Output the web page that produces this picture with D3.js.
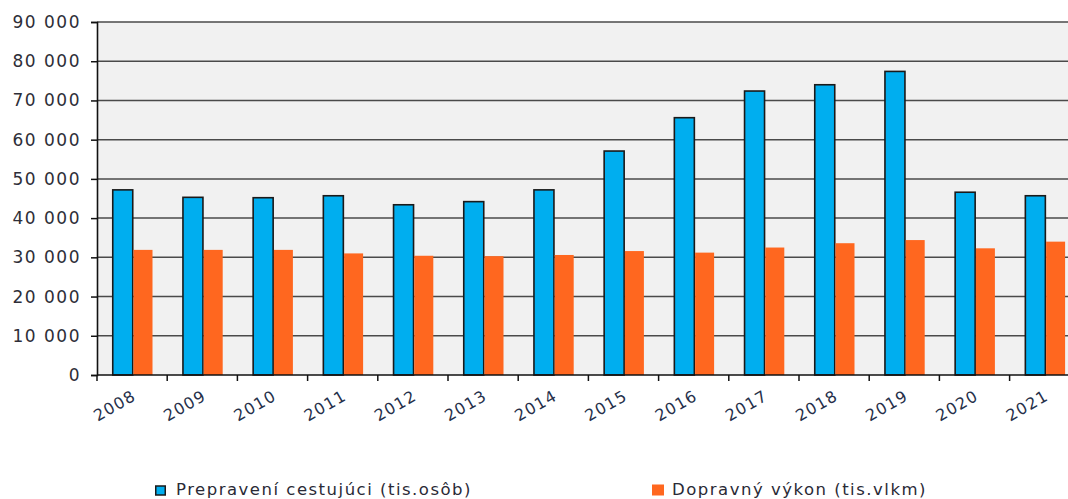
<!DOCTYPE html>
<html><head><meta charset="utf-8">
<script src="https://cdn.jsdelivr.net/npm/d3@7"></script>
<style>
html,body{margin:0;padding:0;background:#fff;overflow:hidden}
svg{display:block}
text{font-family:"DejaVu Sans",sans-serif}
</style></head>
<body>
<svg id="c" width="1068" height="499"></svg>
<script>
const years = ["2008","2009","2010","2011","2012","2013","2014","2015","2016","2017","2018","2019","2020","2021"];
const passengers = [47200,45300,45200,45700,43400,44200,47200,57100,65600,72400,74000,77400,46600,45700];
const performance = [31900,31900,31900,31000,30400,30300,30600,31600,31200,32500,33600,34400,32300,34000];
const yTicks = [0,10000,20000,30000,40000,50000,60000,70000,80000,90000];
const seriesNames = ["Prepravení cestujúci (tis.osôb)","Dopravný výkon (tis.vlkm)"];
const seriesColors = ["#00aeef","#ff671f"];

(function(){
const svg = d3.select("#c");
const mLeft = 97, mTop = 22, mBottom = 375, band = 70.2;
const x = d3.scaleBand().domain(years).range([mLeft, mLeft + band*years.length]).padding(0);
const xi = d3.scaleBand().domain([0,1]).range([15, 55]).padding(0);
const y = d3.scaleLinear().domain([0,90000]).range([mBottom, mTop]);

svg.append("rect").attr("x", mLeft).attr("y", mTop).attr("width", 1068-mLeft).attr("height", mBottom-mTop).attr("fill", "#f1f1f1");

// grid
svg.append("g").selectAll("line").data(yTicks.slice(1)).join("line")
  .attr("x1", mLeft).attr("x2", 1068).attr("y1", d=>y(d)).attr("y2", d=>y(d))
  .attr("stroke", "#4a4a4a").attr("stroke-width", 1.5);

// bars
const rows = years.map((yr,i)=>({yr, vals:[passengers[i], performance[i]]}));
const g = svg.append("g");
rows.forEach(r=>{
  r.vals.forEach((v,k)=>{
    const bx = x(r.yr) + xi(k);
    if(k===0){
      g.append("rect").attr("x", bx+0.75).attr("y", y(v)).attr("width", xi.bandwidth()).attr("height", y(0)-y(v))
        .attr("fill", seriesColors[0]).attr("stroke", "#1a1a1a").attr("stroke-width", 1.6);
    } else {
      g.append("rect").attr("x", bx+1.5).attr("y", y(v)).attr("width", xi.bandwidth()-1).attr("height", y(0)-y(v))
        .attr("fill", seriesColors[1]);
    }
  });
});

// y axis
const ya = svg.append("g").attr("transform", `translate(${mLeft},0)`)
  .call(d3.axisLeft(y).tickValues(yTicks).tickSize(6).tickPadding(10)
    .tickFormat(d=>d3.format(",")(d).replace(/,/g," ")));
ya.select(".domain").attr("stroke","#111").attr("stroke-width",1.6);
ya.selectAll(".tick line").attr("stroke","#111").attr("stroke-width",1.5);
ya.selectAll("text").attr("font-size",17).attr("fill","#2e2e38").attr("letter-spacing","1.5px")
  .attr("font-family","DejaVu Sans");

// x axis
const xa = svg.append("g").attr("transform", `translate(0,${mBottom})`);
xa.append("line").attr("x1", mLeft).attr("x2", 1068).attr("stroke","#111").attr("stroke-width",1.6);
xa.selectAll("line.t").data(years).join("line").attr("class","t")
  .attr("x1", d=>x(d)).attr("x2", d=>x(d)).attr("y1",0).attr("y2",6)
  .attr("stroke","#111").attr("stroke-width",1.5);
xa.selectAll("text").data(years).join("text")
  .attr("transform", d=>`translate(${x(d)+x.bandwidth()/2+5},${24}) rotate(-30)`)
  .attr("text-anchor","end").attr("font-size",16).attr("letter-spacing","1.2px")
  .attr("fill","#26304a").text(d=>d);

// legend
const legX = [155, 652];
seriesNames.forEach((n,k)=>{
  const lg = svg.append("g").attr("transform", `translate(${legX[k]},0)`);
  if(k===0){
    lg.append("rect").attr("x",0.75).attr("y",486).attr("width",9.5).attr("height",9)
      .attr("fill",seriesColors[0]).attr("stroke","#1a1a1a").attr("stroke-width",1.5);
  } else {
    lg.append("rect").attr("x",0).attr("y",484.5).attr("width",12).attr("height",11).attr("fill",seriesColors[1]);
  }
  lg.append("text").attr("x", k===0?21:20).attr("y",494.5).attr("font-size",16.5).attr("letter-spacing","1.5px")
    .attr("fill","#2a2a36").text(n);
});
})();
</script>
</body></html>
